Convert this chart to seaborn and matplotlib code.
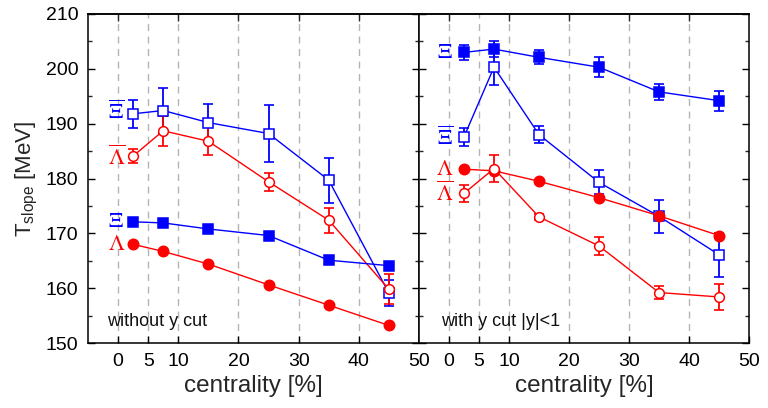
import numpy as np
import pandas as pd
import matplotlib
matplotlib.use("Agg")
import matplotlib.pyplot as plt
import seaborn as sns
from matplotlib.ticker import MultipleLocator

# ---------------- data ----------------
centrality = [2.5, 7.5, 15, 25, 35, 45]
x_ticks = [0, 5, 10, 20, 30, 40, 50]
y_ticks = [150, 160, 170, 180, 190, 200, 210]

# without y cut
xibar_nocut = [191.8, 192.4, 190.2, 188.2, 179.7, 159.1]
xibar_nocut_err = [2.5, 4.1, 3.4, 5.2, 4.1, 2.3]
lambar_nocut = [184.1, 188.7, 186.8, 179.4, 172.4, 159.8]
lambar_nocut_err = [1.2, 2.7, 2.6, 1.6, 2.3, 2.7]
xi_nocut = [172.1, 171.9, 170.8, 169.6, 165.1, 164.1]
lam_nocut = [168.0, 166.7, 164.4, 160.6, 156.9, 153.2]

# with y cut |y|<1
xi_cut = [203.0, 203.6, 202.1, 200.3, 195.8, 194.2]
xi_cut_err = [1.3, 1.4, 1.3, 1.8, 1.5, 1.8]
xibar_cut = [187.6, 200.3, 188.0, 179.3, 173.1, 166.1]
xibar_cut_err = [1.6, 3.3, 1.5, 2.2, 3.0, 4.0]
lam_cut = [181.7, 181.4, 179.5, 176.5, 173.2, 169.6]
lam_cut_err = [0.3, 0.3, 0.3, 0.3, 0.3, 0.5]
lambar_cut = [177.3, 181.8, 173.0, 167.7, 159.2, 158.4]
lambar_cut_err = [1.5, 2.4, 0.6, 1.6, 1.2, 2.4]

# ---------------- style ----------------
sns.set_theme(style="ticks")
plt.rcParams["font.family"] = ["Liberation Sans", "DejaVu Sans"]
plt.rcParams["mathtext.fontset"] = "custom"
plt.rcParams["mathtext.rm"] = "Liberation Sans"
plt.rcParams["mathtext.it"] = "Liberation Sans:italic"
plt.rcParams["axes.edgecolor"] = "black"
plt.rcParams["axes.linewidth"] = 1.1

BLUE = "#0000ff"
RED = "#ff0000"

fig = plt.figure(figsize=(7.68, 4.08), dpi=100)
axL = fig.add_axes([88 / 768, 65 / 408, 331 / 768, 329 / 408])
axR = fig.add_axes([419 / 768, 65 / 408, 330 / 768, 329 / 408])


def series(ax, y, err, color, marker, filled, ms):
    df = pd.DataFrame({"c": centrality, "T": y})
    if err is not None:
        ax.errorbar(df["c"], df["T"], yerr=err, fmt="none", ecolor=color,
                    elinewidth=1.3, capsize=3.5, capthick=1.2, zorder=3)
    sns.lineplot(data=df, x="c", y="T", ax=ax, color=color, linewidth=1.0,
                 marker=marker, markersize=ms,
                 markerfacecolor=color if filled else "white",
                 markeredgecolor=color, markeredgewidth=1.1, zorder=4,
                 legend=False)


def style_axes(ax, labels_y):
    ax.set_xlim(-5, 50)
    ax.set_ylim(150, 210)
    for xv in [0, 5, 10, 20, 30, 40]:
        ax.axvline(xv, color="#b4b4b4", linestyle=(0, (5, 4)), linewidth=1.0,
                   zorder=0)
    ax.set_xticks(x_ticks)
    ax.set_xticklabels([str(t) for t in x_ticks])
    ax.set_yticks(y_ticks)
    ax.yaxis.set_minor_locator(MultipleLocator(5))
    ax.tick_params(axis="both", which="major", direction="in", length=5,
                   width=1.0, labelsize=14, colors="black", pad=7)
    ax.tick_params(axis="y", which="minor", direction="in", length=3,
                   width=1.0, left=True, right=True)
    ax.tick_params(axis="y", which="both", left=True, right=True,
                   labelleft=labels_y, labelright=False)
    ax.tick_params(axis="x", bottom=True, top=False)
    sec = ax.secondary_xaxis("top")
    sec.set_xticks([0, 10, 20, 30, 40])
    sec.tick_params(direction="in", length=5, width=1.0, labeltop=False)
    sec.spines["top"].set_linewidth(1.1)
    ax.set_xlabel("centrality [%]", fontsize=17.5, labelpad=4)
    for s in ax.spines.values():
        s.set_color("black")
        s.set_linewidth(1.1)


style_axes(axL, True)
style_axes(axR, False)
axL.set_ylabel(r"T$_{\rm slope}$ [MeV]", fontsize=16, labelpad=4)
axR.set_ylabel("")

# left panel
series(axL, xibar_nocut, xibar_nocut_err, BLUE, "s", False, 6.5)
series(axL, lambar_nocut, lambar_nocut_err, RED, "o", False, 7)
series(axL, xi_nocut, None, BLUE, "s", True, 7)
series(axL, lam_nocut, None, RED, "o", True, 7.5)

# right panel
series(axR, xi_cut, xi_cut_err, BLUE, "s", True, 7)
series(axR, xibar_cut, xibar_cut_err, BLUE, "s", False, 6.5)
series(axR, lam_cut, lam_cut_err, RED, "o", True, 7.5)
series(axR, lambar_cut, lambar_cut_err, RED, "o", False, 7)

gk = dict(fontsize=16, ha="center", va="center", math_fontfamily="stix")
axL.text(-0.4, 192.0, r"$\overline{\Xi}$", color=BLUE, **gk)
axL.text(-0.2, 183.8, r"$\overline{\Lambda}$", color=RED, **gk)
axL.text(-0.4, 172.2, r"$\Xi$", color=BLUE, **gk)
axL.text(-0.2, 168.0, r"$\Lambda$", color=RED, **gk)

axR.text(-0.7, 202.9, r"$\Xi$", color=BLUE, **gk)
axR.text(-0.7, 187.3, r"$\overline{\Xi}$", color=BLUE, **gk)
axR.text(-0.7, 181.7, r"$\Lambda$", color=RED, **gk)
axR.text(-0.7, 177.2, r"$\overline{\Lambda}$", color=RED, **gk)

axL.text(-1.8, 154.0, "without y cut", fontsize=13, ha="left", va="center",
         color="#111111")
axR.text(-1.3, 154.0, "with y cut |y|<1", fontsize=13, ha="left",
         va="center", color="#111111")

fig.savefig("out.png", dpi=100)
